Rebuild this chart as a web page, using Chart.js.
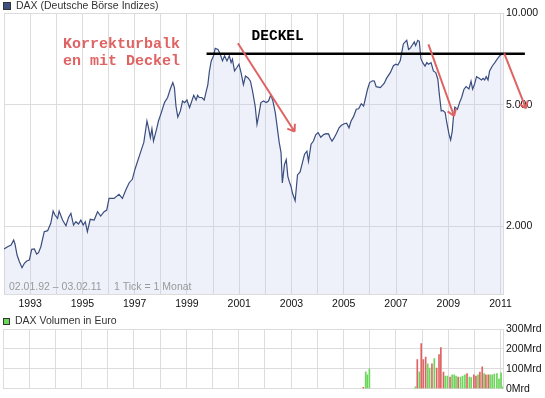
<!DOCTYPE html>
<html>
<head>
<meta charset="utf-8">
<script src="https://cdn.jsdelivr.net/npm/chart.js@4"></script>
<style>
body { margin: 0; background: #fff; }
canvas { position: absolute; left: 0; }
#priceChart { top: 0; }
#volChart { top: 315px; }
</style>
</head>
<body>
<canvas id="priceChart" width="545" height="315"></canvas>
<canvas id="volChart" width="545" height="83"></canvas>
<script>
// monthly closes, x as decimal year
const dates = [1992.00,1992.14,1992.27,1992.37,1992.42,1992.50,1992.59,1992.69,1992.78,1992.87,1992.97,
  1993.06,1993.16,1993.25,1993.32,1993.41,1993.54,1993.67,1993.79,1993.88,1993.95,
  1994.05,1994.11,1994.24,1994.37,1994.47,1994.56,1994.66,1994.75,1994.85,1994.94,
  1995.03,1995.11,1995.19,1995.30,1995.45,1995.58,1995.70,1995.83,1995.93,
  1996.02,1996.21,1996.40,1996.53,1996.66,1996.79,1996.91,
  1997.01,1997.09,1997.22,1997.35,1997.47,1997.53,1997.60,1997.66,1997.72,1997.85,1997.91,
  1998.02,1998.14,1998.26,1998.36,1998.46,1998.52,1998.58,1998.65,1998.75,1998.83,1998.91,
  1999.00,1999.10,1999.26,1999.35,1999.41,1999.47,1999.57,1999.66,1999.73,1999.80,1999.86,1999.93,
  2000.02,2000.08,2000.19,2000.27,2000.36,2000.44,2000.53,2000.62,2000.69,2000.74,2000.82,2000.91,2000.99,
  2001.07,2001.16,2001.24,2001.34,2001.43,2001.51,2001.61,2001.68,2001.74,2001.83,2001.93,
  2002.03,2002.12,2002.21,2002.29,2002.38,2002.44,2002.53,2002.60,2002.65,2002.73,2002.80,2002.86,2002.92,2002.98,
  2003.04,2003.14,2003.23,2003.33,2003.40,2003.50,2003.59,2003.65,2003.75,2003.84,2003.93,
  2004.02,2004.12,2004.23,2004.32,2004.42,2004.48,2004.55,2004.63,2004.72,2004.82,2004.91,
  2005.02,2005.11,2005.20,2005.28,2005.37,2005.48,2005.57,2005.67,2005.76,2005.82,2005.91,2005.99,
  2006.10,2006.17,2006.24,2006.40,2006.55,2006.64,2006.78,2006.90,2006.99,
  2007.07,2007.16,2007.22,2007.28,2007.35,2007.41,2007.48,2007.54,2007.63,2007.70,2007.75,2007.83,2007.89,2007.95,
  2008.02,2008.11,2008.18,2008.24,2008.34,2008.43,2008.52,2008.60,2008.65,2008.73,2008.79,2008.88,2008.94,
  2009.03,2009.09,2009.15,2009.20,2009.25,2009.35,2009.43,2009.51,2009.60,2009.68,2009.79,2009.87,2009.93,
  2010.00,2010.08,2010.18,2010.27,2010.33,2010.39,2010.45,2010.52,2010.58,2010.69,2010.78,2010.87,2010.97,2011.09];
const dax = [1689,1718,1740,1807,1754,1614,1535,1467,1516,1542,1554,
  1685,1689,1626,1642,1718,1924,1939,2049,2248,2182,
  2127,2248,2100,2012,2143,2210,2023,2074,2038,2100,
  2023,2074,1924,2112,2100,2237,2165,2237,2265,
  2473,2473,2549,2473,2634,2783,2855,
  3079,3230,3490,3770,4430,4210,3910,4180,3810,4210,4430,
  4720,5090,5290,5630,5920,5700,4960,4560,4780,5150,5090,
  5190,4900,5380,5190,5380,5290,5290,5190,5510,5830,6460,6970,
  7250,7660,7600,7340,6970,7250,6970,7250,6880,7060,6460,6630,6800,
  6380,5830,6220,6130,5980,5550,4960,4320,4600,5090,5150,
  5090,5150,5400,5150,4720,4320,3770,3490,2780,3190,3310,2920,2800,2710,
  2570,2430,2950,3020,3190,3450,3530,3270,3720,3810,4000,
  4060,3920,4000,4030,4020,3900,3810,3900,4030,4210,4290,
  4340,4360,4210,4430,4570,4840,4860,5050,4960,5220,5630,5920,
  6000,5990,5740,5700,5890,6120,6380,6720,6800,
  6760,6970,7430,7920,8040,8140,7600,7660,7870,8040,7820,8140,8080,7100,
  6880,6700,6880,6800,6880,6460,6380,6070,5490,4780,4800,4720,4390,
  4000,3845,4100,4600,4920,4840,5090,5290,5630,5740,5640,5980,5630,
  5830,6190,6110,6040,6110,6040,6190,6040,6460,6720,6880,7060,7250,7380];

const xTicks = [1992,1993,1994,1995,1996,1997,1998,1999,2000,2001,2002,2003,2004,2005,2006,2007,2008,2009,2010,2011];
const yTicks = [2000, 5000, 10000];
const yTickLabels = ['2.000', '5.000', '10.000'];

// volume in Mrd Euro, down = red bar
const volDates = [2005.76,2005.85,2005.91,2005.99,
  2007.75,2007.82,2007.90,2007.97,2008.05,2008.14,2008.22,2008.29,2008.38,2008.47,
  2008.56,2008.65,2008.72,2008.82,2008.89,2008.97,
  2009.07,2009.15,2009.23,2009.30,2009.38,2009.47,2009.55,2009.64,2009.72,2009.81,
  2009.88,2009.98,2010.06,2010.14,2010.21,2010.30,2010.37,2010.44,2010.53,2010.60,
  2010.68,2010.76,2010.86,2010.94,2011.02,2011.08];
const volume = [7,85,70,100, 10,146,85,227,146,159,125,103,125,151,
  103,171,207,83,64,64, 59,70,70,64,59,59,64,70,76,59,
  56,70,64,70,83,110,76,70,70,70, 70,73,76,49,80,10];
const volDown = [1,0,0,0, 0,1,0,1,1,1,0,0,1,0, 1,1,1,1,0,0, 1,0,0,0,1,0,0,0,1,0,
  0,1,1,0,1,1,0,1,1,0, 0,0,0,0,0,0];
const volTicks = [0, 100, 200, 300];
const volTickLabels = ['0Mrd', '100Mrd', '200Mrd', '300Mrd'];

// hand drawn marks, in [year, value]
const deckel = [[1999.75, 7360], [2011.93, 7360]];
const arrows = [
  [[2000.95, 7959], [2003.12, 4088]],
  [[2008.24, 7899], [2009.22, 4600]],
  [[2011.14, 7382], [2011.97, 4876]]
];

const gridColor = '#dcdcdc';
const red = '#e06363';
const green = '#6ad65a';
const sans = '"Liberation Sans", Arial, sans-serif';
const mono = '"Liberation Mono", "DejaVu Sans Mono", monospace';

function legendBox(ctx, x, y, size, fill, text) {
  ctx.fillStyle = fill;
  ctx.fillRect(x, y, size, size);
  ctx.strokeStyle = '#333';
  ctx.lineWidth = 1;
  ctx.strokeRect(x + 0.5, y + 0.5, size - 1, size - 1);
  ctx.fillStyle = '#333';
  ctx.font = '10.5px ' + sans;
  ctx.textBaseline = 'middle';
  ctx.fillText(text, x + size + 5, y + size / 2);
}

const priceExtras = {
  id: 'priceExtras',
  afterDraw(chart) {
    const ctx = chart.ctx, sx = chart.scales.x, sy = chart.scales.y, a = chart.chartArea;
    const px = p => [sx.getPixelForValue(p[0]), sy.getPixelForValue(p[1])];
    ctx.save();
    legendBox(ctx, 3, 2, 8, '#3d5080', 'DAX (Deutsche Börse Indizes)');

    ctx.fillStyle = '#9a9a9a';
    ctx.font = '10.5px ' + sans;
    ctx.textBaseline = 'alphabetic';
    ctx.fillText('02.01.92 \u2013 03.02.11', a.left + 5, a.bottom - 4.5);
    ctx.fillText('1 Tick = 1 Monat', a.left + 110, a.bottom - 4.5);

    // Deckel
    const d0 = px(deckel[0]), d1 = px(deckel[1]);
    ctx.strokeStyle = '#000';
    ctx.lineWidth = 2.5;
    ctx.beginPath();
    ctx.moveTo(d0[0], d0[1]);
    ctx.lineTo(d1[0], d1[1]);
    ctx.stroke();
    ctx.fillStyle = '#000';
    ctx.font = 'bold 14.5px ' + mono;
    ctx.fillText('DECKEL', d0[0] + 45, d0[1] - 14);

    ctx.fillStyle = red;
    ctx.font = 'bold 15px ' + mono;
    ctx.fillText('Korrekturbalk', a.left + 59, 48);
    ctx.fillText('en mit Deckel', a.left + 59, 65);

    ctx.strokeStyle = red;
    ctx.lineWidth = 2;
    arrows.forEach(ar => {
      const p0 = px(ar[0]), p1 = px(ar[1]);
      ctx.beginPath();
      ctx.moveTo(p0[0], p0[1]);
      ctx.lineTo(p1[0], p1[1]);
      const ang = Math.atan2(p1[1] - p0[1], p1[0] - p0[0]);
      [0.6, -0.6].forEach(o => {
        ctx.moveTo(p1[0], p1[1]);
        ctx.lineTo(p1[0] - 8 * Math.cos(ang + o), p1[1] - 8 * Math.sin(ang + o));
      });
      ctx.stroke();
    });
    ctx.restore();
  }
};

new Chart(document.getElementById('priceChart'), {
  type: 'line',
  data: {
    datasets: [{
      data: dates.map((d, i) => ({x: d, y: dax[i]})),
      borderColor: '#3a4d7f',
      borderWidth: 1.2,
      backgroundColor: 'rgba(187,199,235,0.25)',
      fill: 'start',
      pointRadius: 0,
      tension: 0
    }]
  },
  options: {
    responsive: false,
    animation: false,
    layout: {padding: {left: 3, top: 13, right: 0, bottom: 0}},
    plugins: {legend: {display: false}, tooltip: {enabled: false}},
    scales: {
      x: {
        type: 'linear',
        min: 1992,
        max: 2011.093,
        afterBuildTicks: s => { s.ticks = xTicks.map(v => ({value: v})); },
        afterFit: s => { s.height = 21; },
        grid: {color: gridColor, drawTicks: false},
        border: {color: gridColor},
        ticks: {
          autoSkip: false, maxRotation: 0, padding: 4, color: '#111',
          font: {family: sans, size: 10.5},
          callback: v => (v % 2 === 1 ? String(v) : '')
        }
      },
      y: {
        type: 'logarithmic',
        position: 'right',
        min: 1203,
        max: 10000,
        afterBuildTicks: s => { s.ticks = yTicks.map(v => ({value: v})); },
        afterFit: s => { s.width = 42; },
        grid: {color: gridColor, drawTicks: false},
        border: {color: gridColor},
        ticks: {
          padding: 3, color: '#111',
          font: {family: sans, size: 10.5},
          callback: v => yTickLabels[yTicks.indexOf(v)]
        }
      }
    }
  },
  plugins: [priceExtras]
});

const volExtras = {
  id: 'volExtras',
  afterDraw(chart) {
    const ctx = chart.ctx;
    ctx.save();
    legendBox(ctx, 3, 3, 7, green, 'DAX Volumen in Euro');
    ctx.restore();
  }
};

new Chart(document.getElementById('volChart'), {
  type: 'bar',
  data: {
    datasets: [{
      data: volDates.map((d, i) => ({x: d, y: volume[i]})),
      backgroundColor: volDown.map(v => (v ? red : green)),
      barThickness: 1,
      grouped: false
    }]
  },
  options: {
    responsive: false,
    animation: false,
    layout: {padding: {left: 3, top: 14, right: 0, bottom: 9}},
    plugins: {legend: {display: false}, tooltip: {enabled: false}},
    scales: {
      x: {
        type: 'linear',
        offset: false,
        min: 1992,
        max: 2011.093,
        afterBuildTicks: s => { s.ticks = xTicks.map(v => ({value: v})); },
        afterFit: s => { s.height = 0; },
        grid: {color: gridColor, drawTicks: false, offset: false},
        border: {color: gridColor},
        ticks: {display: false}
      },
      y: {
        position: 'right',
        min: 0,
        max: 300,
        afterBuildTicks: s => { s.ticks = volTicks.map(v => ({value: v})); },
        afterFit: s => { s.width = 42; },
        grid: {color: gridColor, drawTicks: false},
        border: {color: gridColor},
        ticks: {
          padding: 3, color: '#111',
          font: {family: sans, size: 10.5},
          callback: v => volTickLabels[volTicks.indexOf(v)]
        }
      }
    }
  },
  plugins: [volExtras]
});
</script>
</body>
</html>
